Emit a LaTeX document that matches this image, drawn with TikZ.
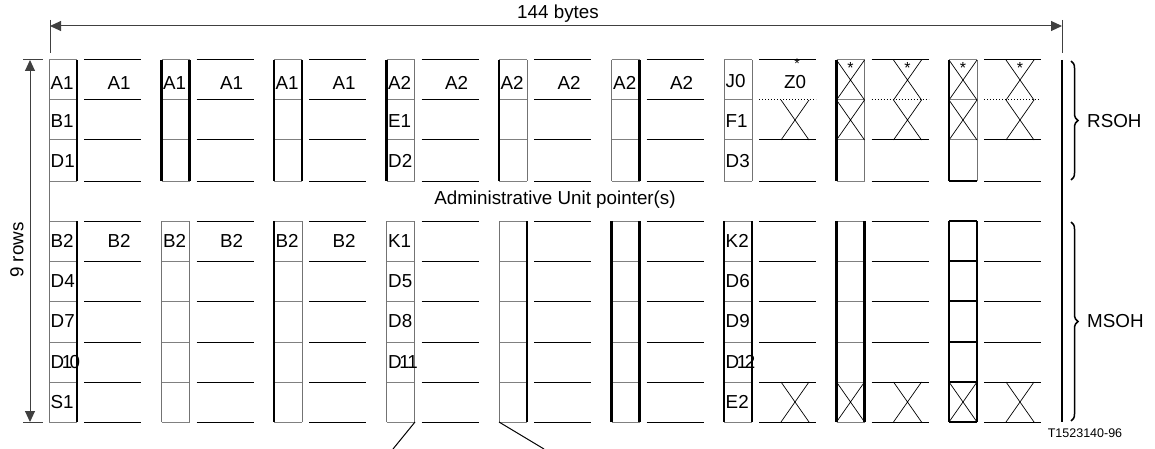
\documentclass[tikz,border=0pt]{standalone}
\usepackage{fontspec}
\setmainfont{Liberation Sans}
\usetikzlibrary{arrows.meta, decorations.pathreplacing}
\tikzset{
    thinside/.style={draw=black!55, line width=1pt},
    thickside/.style={draw=black, line width=2.2pt},
    cellsep/.style={draw=black!50, line width=1pt},
    rowline/.style={draw=black, line width=1pt},
    dotrow/.style={draw=black, line width=1pt, dotted},
    xcross/.style={draw=black, line width=0.7pt},
    dimline/.style={draw=black!75, line width=1pt},
    dimarrow/.style={
        {Triangle[length=11pt,width=10pt]}-{Triangle[length=11pt,width=10pt]},
        draw=black!75, line width=1pt
    },
    cell/.style={font=\fontsize{18.8}{20}\selectfont, inner sep=0pt, anchor=west},
    field/.style={font=\fontsize{18.8}{20}\selectfont, inner sep=0pt},
    starmark/.style={font=\fontsize{16}{16}\selectfont, inner sep=0pt, anchor=north},
    note/.style={font=\fontsize{18.8}{20}\selectfont, inner sep=0pt},
    ohbrace/.style={decorate, decoration={brace, amplitude=7pt}, line width=1.5pt}
}

\begin{document}
\begin{tikzpicture}[x=1pt, y=-1pt]
    \useasboundingbox (0,0) rectangle (1155,449);

    % 144 bytes
    \coordinate (bytesL) at (50,26);
    \coordinate (bytesR) at (1062,26);
    \draw[dimline] (50,20) -- (50,53);
    \draw[dimline] (1062,20) -- (1062,53);
    \draw[dimarrow] (bytesL) -- (bytesR);
    \node[note] (bytes) at (558,14) {144 bytes};

    % 9 rows
    \coordinate (rowsT) at (30,60);
    \coordinate (rowsB) at (30,422);
    \draw[dimline] (23,60) -- (43,60);
    \draw[dimline] (23,422) -- (43,422);
    \draw[dimarrow] (rowsT) -- (rowsB);
    \node[note, rotate=90] (rows) at (17,250) {9 rows};

    % columns of the frame
    \foreach \i/\ul/\ur/\ll/\lr in {0/thinside/thickside/thinside/thickside,
            1/thickside/thickside/thinside/thinside,
            2/thickside/thickside/thickside/thinside,
            3/thickside/thinside/thinside/thinside,
            4/thickside/thinside/thinside/thickside,
            5/thinside/thickside/thickside/thickside,
            6/thinside/thinside/thickside/thickside,
            7/thickside/thinside/thickside/thickside,
            8/thickside/thinside/thickside/thickside}{
        \pgfmathsetmacro\x{49+112.5*\i}
        \foreach \y in {60,100,140,181,221,261,301,342,382,422}
            \draw[cellsep] (\x,\y) -- (\x+28,\y);
        \draw[\ul] (\x,60) -- (\x,181);
        \draw[\ur] (\x+28,60) -- (\x+28,181);
        \draw[\ll] (\x,221) -- (\x,422);
        \draw[\lr] (\x+28,221) -- (\x+28,422);
        \foreach \y in {60,140,181,221,261,301,342,382,422}
            \draw[rowline] (\x+35,\y) -- (\x+92,\y);
    }
    \draw[thinside] (49,181) -- (49,221);
    \foreach \i in {0,...,5}{
        \pgfmathsetmacro\x{49+112.5*\i}
        \draw[rowline] (\x+35,100) -- (\x+92,100);
    }
    \foreach \i in {6,7,8}{
        \pgfmathsetmacro\x{49+112.5*\i}
        \draw[dotrow] (\x+35,100) -- (\x+92,100);
    }
    \draw[thickside] (949,181) -- (977,181);
    \foreach \y in {221,261,301,342,382,422}
        \draw[thickside] (949,\y) -- (977,\y);

    % byte labels
    \foreach \i/\a/\b in {0/A1/A1, 1/A1/A1, 2/A1/A1, 3/A2/A2, 4/A2/A2, 5/A2/A2}{
        \pgfmathsetmacro\x{49+112.5*\i}
        \node[cell] (cell-\i-1) at (\x+1.5,83) {\a};
        \node[field] (byte-\i-1) at (\x+70,83) {\b};
    }
    \foreach \i/\a/\b in {0/B1/D1, 3/E1/D2, 6/F1/D3}{
        \pgfmathsetmacro\x{49+112.5*\i}
        \node[cell] (cell-\i-2) at (\x+1.5,121) {\a};
        \node[cell] (cell-\i-3) at (\x+1.5,161) {\b};
    }
    \node[cell] (cell-6-1) at (725.5,81) {J0};
    \node[field] (byte-6-1) at (795,82) {Z0};
    \node[starmark, font=\fontsize{14}{14}\selectfont] (star-z0) at (797,59) {*};

    \foreach \i/\a/\b/\c/\d/\e in {0/B2/D4/D7/D\kern-2.5pt1\kern-2.5pt0/S1,
            3/K1/D5/D8/D\kern-2.5pt1\kern-2.5pt1/{},
            6/K2/D6/D9/D\kern-2.5pt1\kern-2.5pt2/E2}{
        \pgfmathsetmacro\x{49+112.5*\i}
        \node[cell] (cell-\i-4) at (\x+1.5,241) {\a};
        \node[cell] (cell-\i-5) at (\x+1.5,281) {\b};
        \node[cell] (cell-\i-6) at (\x+1.5,321.5) {\c};
        \node[cell] (cell-\i-7) at (\x+1.5,362) {\d};
        \node[cell] (cell-\i-8) at (\x+1.5,402) {\e};
    }
    \foreach \i in {0,1,2}{
        \pgfmathsetmacro\x{49+112.5*\i}
        \node[field] (byte-\i-4) at (\x+70,241) {B2};
    }
    \foreach \i in {1,2}{
        \pgfmathsetmacro\x{49+112.5*\i}
        \node[cell] (cell-\i-4) at (\x+1.5,241) {B2};
    }

    % unused bytes
    \foreach \i in {7,8}{
        \pgfmathsetmacro\x{49+112.5*\i}
        \foreach \ya/\yb in {60/100, 100/140, 382/422}{
            \draw[xcross] (\x,\ya) -- (\x+28,\yb) (\x+28,\ya) -- (\x,\yb);
            \draw[xcross] (\x+57,\ya) -- (\x+85,\yb) (\x+85,\ya) -- (\x+57,\yb);
        }
        \node[starmark] (star-\i-a) at (\x+14,62.5) {*};
        \node[starmark] (star-\i-b) at (\x+71,62.5) {*};
    }
    \foreach \ya/\yb in {100/140, 382/422}
        \draw[xcross] (781,\ya) -- (809,\yb) (809,\ya) -- (781,\yb);

    % pointer leaders
    \coordinate (ptrA) at (415,422);
    \coordinate (ptrB) at (499,422);
    \coordinate (ptrAend) at (393,449);
    \coordinate (ptrBend) at (544,449);
    \draw[rowline] (ptrA) -- (ptrAend);
    \draw[rowline] (ptrB) -- (ptrBend);

    \node[note] (aupointer) at (555,200) {Administrative Unit pointer(s)};

    % section overheads
    \draw[line width=2pt] (1062,60) -- (1062,422);
    \draw[ohbrace] (1071,61) -- (1071,180);
    \draw[ohbrace] (1071,222) -- (1071,421);
    \node[note, anchor=west] (rsoh) at (1087,121) {RSOH};
    \node[note, anchor=west] (msoh) at (1087,321) {MSOH};
    \node[font=\fontsize{12.5}{14}\selectfont, inner sep=0pt] (figno) at (1085,433) {T1523140-96};
\end{tikzpicture}
\end{document}
